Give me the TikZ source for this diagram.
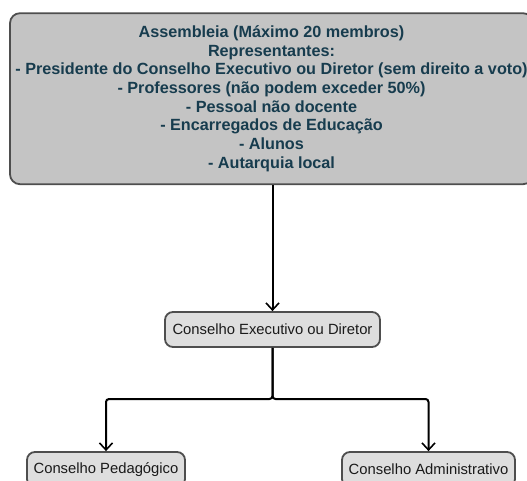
\documentclass[tikz,border=0pt]{standalone}
\usepackage{fontspec}
\setmainfont{Liberation Sans}
\usetikzlibrary{arrows.meta}
\definecolor{topfill}{HTML}{C4C4C4}
\definecolor{boxfill}{HTML}{DEDEDE}
\definecolor{boxline}{HTML}{4E4E4E}
\definecolor{toptext}{HTML}{173C4E}
\definecolor{boxtext}{HTML}{1A1A1A}
\tikzset{
  topbox/.style={draw=boxline, line width=1.8pt, fill=topfill, rounded corners=10pt,
    text=toptext, align=center, inner sep=0pt,
    font=\fontsize{16.2}{18.67}\selectfont\bfseries},
  orgbox/.style={draw=boxline, line width=1.8pt, fill=boxfill, rounded corners=8pt,
    text=boxtext, inner sep=0pt, minimum height=35pt,
    font=\fontsize{14.8}{17}\selectfont},
  conn/.style={draw=black, line width=2pt, rounded corners=3pt,
    -{Straight Barb[length=7pt,width=13pt,line width=1.6pt]}}
}
\begin{document}
\begin{tikzpicture}[x=1pt,y=-1pt]
\useasboundingbox (0,0) rectangle (527,481);
\node[topbox, minimum width=523pt, minimum height=171pt] (assembleia) at (271.5,98.7)
  {Assembleia (Máximo 20 membros)\\
   Representantes:\\
   - Presidente do Conselho Executivo ou Diretor (sem direito a voto)\\
   - Professores (não podem exceder 50\%)\\
   - Pessoal não docente\\
   - Encarregados de Educação\\
   - Alunos\\
   - Autarquia local};
\node[orgbox, minimum width=215pt] (ced) at (272.5,329.5) {Conselho Executivo ou Diretor};
\node[orgbox, minimum width=158pt] (cp) at (106,469.5) {Conselho Pedagógico};
\node[orgbox, minimum width=173pt] (ca) at (428.5,469.5) {Conselho Administrativo};
\coordinate (start) at (assembleia.south -| ced.north);
\coordinate (split) at (272.5,399);
\draw[conn] (start) -- (ced.north);
\draw[conn] (ced.south) -- (split) -| (cp.north);
\draw[conn] (ced.south) -- (split) -| (ca.north);
\end{tikzpicture}
\end{document}
